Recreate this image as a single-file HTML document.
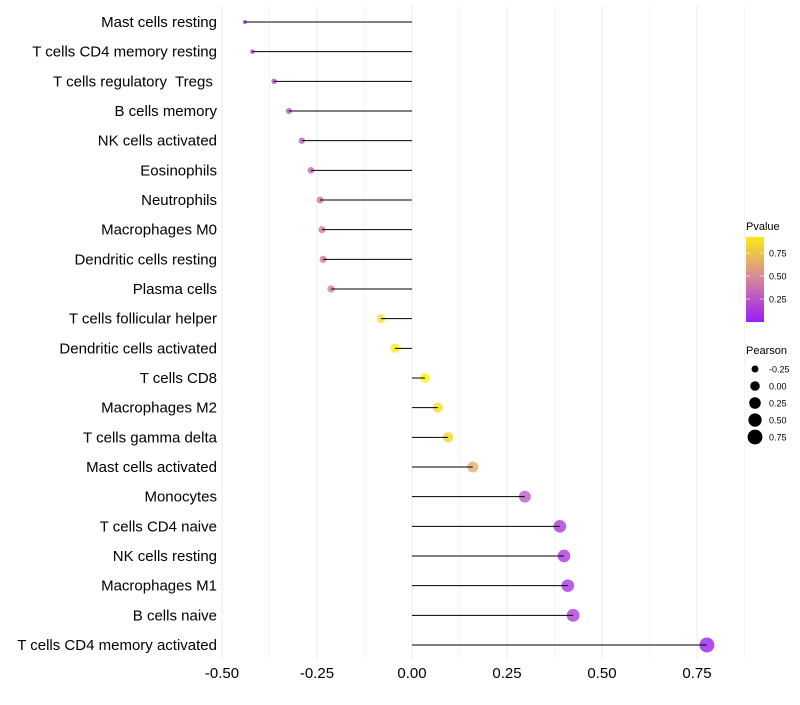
<!DOCTYPE html>
<html><head><meta charset="utf-8"><style>
body{margin:0;background:#fff;font-family:"Liberation Sans",sans-serif;}
svg text{font-family:"Liberation Sans",sans-serif;white-space:pre;}
</style></head><body>
<svg id="chart" width="800" height="700" xmlns="http://www.w3.org/2000/svg"></svg>
<script>
const categories=["Mast cells resting","T cells CD4 memory resting","T cells regulatory  Tregs ","B cells memory","NK cells activated","Eosinophils","Neutrophils","Macrophages M0","Dendritic cells resting","Plasma cells","T cells follicular helper","Dendritic cells activated","T cells CD8","Macrophages M2","T cells gamma delta","Mast cells activated","Monocytes","T cells CD4 naive","NK cells resting","Macrophages M1","B cells naive","T cells CD4 memory activated"];
const pearson=[-0.44,-0.42,-0.363,-0.324,-0.29,-0.266,-0.242,-0.237,-0.234,-0.213,-0.082,-0.045,0.034,0.068,0.095,0.16,0.297,0.389,0.4,0.41,0.424,0.776];
const pvalue=[0.08,0.1,0.2,0.25,0.3,0.35,0.4,0.4,0.42,0.45,0.88,0.95,0.97,0.87,0.82,0.65,0.28,0.12,0.12,0.12,0.14,0.01];
const xTicks=[-0.5,-0.25,0,0.25,0.5,0.75];
const xTickLabels=["-0.50","-0.25","0.00","0.25","0.50","0.75"];
const pTicks=[0.25,0.5,0.75];
const sizeTicks=[-0.25,0,0.25,0.5,0.75];

const svg=document.getElementById('chart');
const NS="http://www.w3.org/2000/svg";
const x=v=>412+v*380;
const y=i=>22+i*(623/21);
const r=v=>Math.sqrt(Math.max(1,22.8+42.8*v));
function col(p){
  const stops=[[0,[155,30,245]],[0.5,[217,139,150]],[1,[255,250,0]]];
  let a=stops[0],b=stops[1];if(p>0.5){a=stops[1];b=stops[2];}
  const t=Math.max(0,Math.min(1,(p-a[0])/(b[0]-a[0])));
  return 'rgb('+a[1].map((c,k)=>Math.round(c+(b[1][k]-c)*t)).join(',')+')';
}
function el(tag,attrs,name,inter){const e=document.createElementNS(NS,tag);for(const k in attrs)e.setAttribute(k,attrs[k]);


svg.appendChild(e);return e;}
for(let v=-0.5;v<=0.875;v+=0.125){el('line',{x1:x(v),x2:x(v),y1:5,y2:660,stroke:Math.abs((v*4)%1)<1e-6?'#ebebeb':'#f5f5f5','stroke-width':1},'grid-line');}
xTicks.forEach((v,i)=>{const t=el('text',{x:x(v),y:678,'text-anchor':'middle','font-size':15,fill:'#000'},'x-tick-label');t.textContent=xTickLabels[i];});
categories.forEach((c,i)=>{const t=el('text',{x:217,y:y(i)+5,'text-anchor':'end','font-size':15,fill:'#000'},'y-tick-label');t.textContent=c;});
categories.forEach((c,i)=>{el('circle',{cx:x(pearson[i]),cy:y(i),r:r(pearson[i]),fill:col(pvalue[i]),'fill-opacity':0.8},'point-'+i);});
categories.forEach((c,i)=>{el('line',{x1:x(0),x2:x(pearson[i]),y1:y(i),y2:y(i),stroke:'#000','stroke-width':1},'segment-'+i);});
const t1=el('text',{x:746,y:230,'font-size':11},'pvalue-legend-title');t1.textContent='Pvalue';
const defs=el('defs',{},'defs');
const g=document.createElementNS(NS,'linearGradient');g.setAttribute('id','pg');g.setAttribute('x1','0');g.setAttribute('y1','1');g.setAttribute('x2','0');g.setAttribute('y2','0');
for(let k=0;k<=10;k++){const s=document.createElementNS(NS,'stop');s.setAttribute('offset',k/10);s.setAttribute('stop-color',col(k/10*0.924));g.appendChild(s);}
defs.appendChild(g);
el('rect',{x:746,y:237,width:18,height:85,fill:'url(#pg)'},'pvalue-colorbar');
pTicks.forEach(p=>{const yy=322-p*92;el('line',{x1:746,x2:750,y1:yy,y2:yy,stroke:'#fff','stroke-opacity':0.6},'colorbar-tick');el('line',{x1:760,x2:764,y1:yy,y2:yy,stroke:'#fff','stroke-opacity':0.6},'colorbar-tick');
const t=el('text',{x:769,y:yy+3.5,'font-size':9},'colorbar-label');t.textContent=p.toFixed(2);});
const t2=el('text',{x:746,y:354,'font-size':11},'pearson-legend-title');t2.textContent='Pearson';
sizeTicks.forEach((v,i)=>{const yy=369+i*17;el('circle',{cx:755,cy:yy,r:r(v),fill:'#000'},'size-legend-key');
const t=el('text',{x:769,y:yy+3.5,'font-size':9},'size-legend-label');t.textContent=v.toFixed(2);});
</script>
</body></html>
